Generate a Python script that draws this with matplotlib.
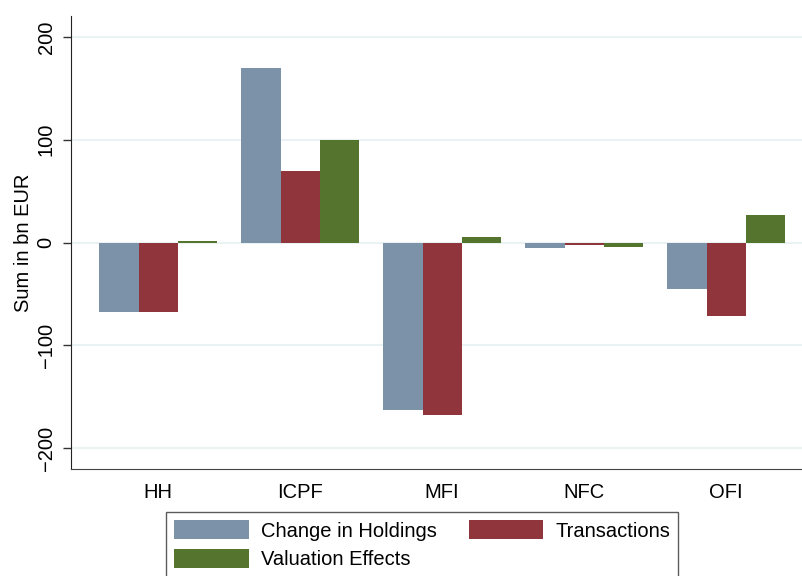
import matplotlib
matplotlib.use("Agg")
import matplotlib.pyplot as plt
import numpy as np

plt.rcParams['font.family'] = ['Liberation Sans', 'DejaVu Sans']

categories = ["HH", "ICPF", "MFI", "NFC", "OFI"]
change_in_holdings = [-68, 170, -163, -5, -45]
transactions = [-68, 70, -168, -2, -72]
valuation_effects = [1, 100, 5, -4, 27]
series_names = ["Change in Holdings", "Transactions", "Valuation Effects"]
colors = ["#7B92A8", "#90353B", "#55752F"]
yticks = [-200, -100, 0, 100, 200]

fig = plt.figure(figsize=(8.02, 5.76), dpi=100)
ax = fig.add_axes([71/802, 1-469/576, 1-71/802, (469-16)/576])

x = np.arange(len(categories))
w = 0.275
handles = []
for i, (vals, name, c) in enumerate(zip([change_in_holdings, transactions, valuation_effects], series_names, colors)):
    h = ax.bar(x + (i-1)*w, vals, width=w, color=c, label=name, zorder=3, linewidth=0)
    handles.append(h)

ax.set_xlim(-0.613, 4.535)
ax.set_ylim(-220.5, 220.5)
ax.set_yticks(yticks)
ax.set_yticklabels([str(t).replace('-', '\u2212') for t in yticks], rotation=90, va='center', fontsize=14.5)
ax.set_xticks(x)
ax.set_xticklabels(categories, fontsize=14.5)
ax.tick_params(axis='x', length=0, pad=10)
ax.tick_params(axis='y', length=6, width=1, pad=5, color='#333333')
for t in yticks:
    ax.axhline(t, color='#EAF2F3', linewidth=1.5, zorder=1)
ax.spines['top'].set_visible(False)
ax.spines['right'].set_visible(False)
ax.spines['left'].set_color('#222222')
ax.spines['bottom'].set_color('#444444')
ax.set_ylabel("Sum in bn EUR", fontsize=14.5, labelpad=3)

order = [0, 2, 1]
leg = fig.legend([handles[i] for i in order], [series_names[i] for i in order],
                 loc='upper left', bbox_to_anchor=(166/802, 1-512/576), ncol=2, fontsize=14.5,
                 frameon=True, fancybox=False, edgecolor='#333333', handlelength=3.7, handleheight=1.1,
                 columnspacing=1.6, handletextpad=0.6, borderpad=0.4, labelspacing=0.4, borderaxespad=0)
leg.get_frame().set_linewidth(1)

fig.savefig("out.png", dpi=100)
